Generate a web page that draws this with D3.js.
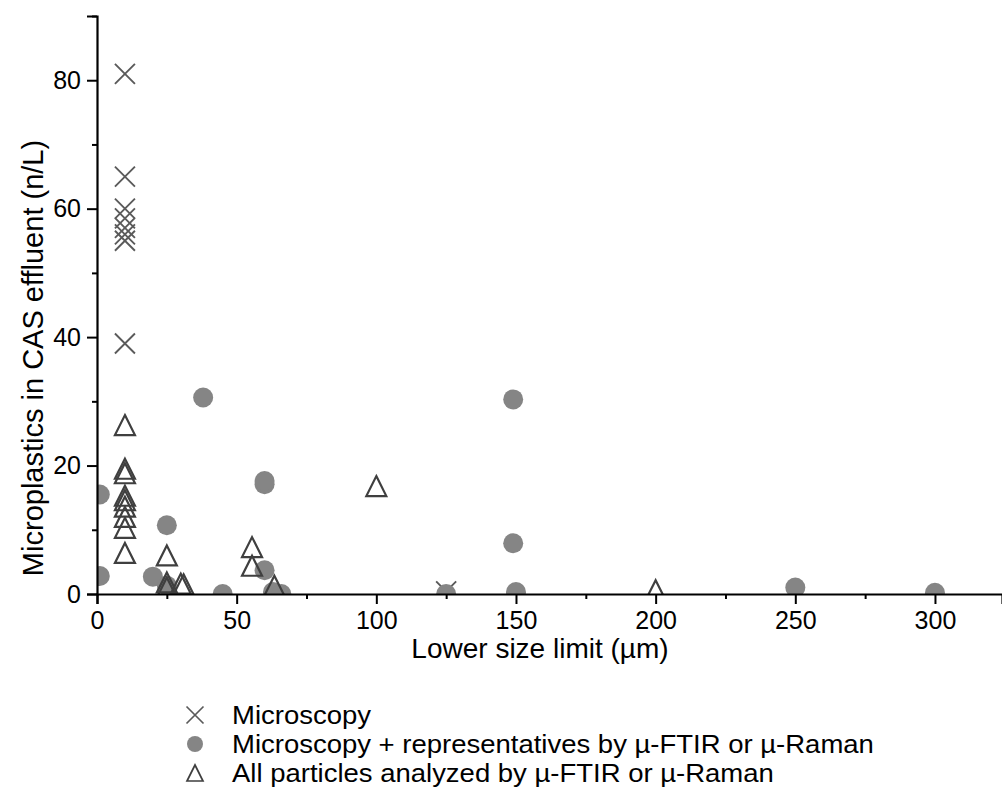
<!DOCTYPE html>
<html>
<head>
<meta charset="utf-8">
<script src="https://cdn.jsdelivr.net/npm/d3@7"></script>
<style>
  html, body { margin: 0; padding: 0; background: #fff; }
  svg { display: block; font-family: "Liberation Sans", Arial, sans-serif; }
</style>
</head>
<body>
<svg id="chart" width="1002" height="806"></svg>
<script>
// Microscopy only
const microX = [10, 10, 10, 10, 10, 10, 10, 10, 125];
const microY = [81, 65, 60, 58.5, 57, 56, 55, 39, 0.4];

// Microscopy + representatives by µ-FTIR or µ-Raman
const reprX = [1, 1, 20, 25, 25, 38, 45, 60, 60, 60, 63, 66, 125, 149, 149, 150, 250, 300];
const reprY = [15.5, 2.8, 2.7, 10.7, 1.3, 30.6, 0, 17.1, 17.6, 3.7, 0.3, 0, 0, 30.3, 7.9, 0.3, 1.0, 0.2];

// All particles analyzed by µ-FTIR or µ-Raman
const allX = [10, 10, 10, 10, 10, 10, 10, 10, 10, 25, 25, 25, 30, 31, 55.5, 55.5, 63.5, 100, 200];
const allY = [26.3, 19.5, 18.8, 15.3, 14.6, 13.6, 12, 10.3, 6.4, 6.0, 1.8, 1.0, 1.6, 1.5, 7.3, 4.4, 1.3, 16.8, 0.6];

const xMajor = [0, 50, 100, 150, 200, 250, 300];
const xMinor = [25, 75, 125, 175, 225, 275];
const yMajor = [0, 20, 40, 60, 80];
const yMinor = [10, 30, 50, 70, 90];

const legendLabels = [
  "Microscopy",
  "Microscopy + representatives by µ-FTIR or µ-Raman",
  "All particles analyzed by µ-FTIR or µ-Raman"
];

const W = 1002, H = 806;
const m = { left: 97, right: 0, top: 16, bottom: 212 };
const svg = d3.select("#chart");

const x = d3.scaleLinear().domain([0, 324]).range([m.left, W - m.right]);
const y = d3.scaleLinear().domain([0, 90]).range([H - m.bottom, m.top]);

const crossColor = "#5a5a5a";
const circleColor = "#858585";
const triColor = "#3f3f3f";

// plot-area clip
svg.append("defs").append("clipPath").attr("id", "plotClip")
  .append("rect")
  .attr("x", x.range()[0]).attr("y", y.range()[1])
  .attr("width", x.range()[1] - x.range()[0])
  .attr("height", y.range()[0] - y.range()[1]);

const plot = svg.append("g").attr("clip-path", "url(#plotClip)");

function crossPath(s) {
  const h = s / 2;
  return `M${-h},${-h}L${h},${h}M${-h},${h}L${h},${-h}`;
}
function triPath(s) {
  const h = s / 2;
  return `M0,${-h}L${h},${h}L${-h},${h}Z`;
}

// crosses
plot.append("g").selectAll("path")
  .data(d3.range(microX.length))
  .join("path")
  .attr("transform", i => `translate(${x(microX[i])},${y(microY[i])})`)
  .attr("d", crossPath(20))
  .attr("fill", "none")
  .attr("stroke", crossColor)
  .attr("stroke-width", 1.9);

// filled circles
plot.append("g").selectAll("circle")
  .data(d3.range(reprX.length))
  .join("circle")
  .attr("cx", i => x(reprX[i]))
  .attr("cy", i => y(reprY[i]))
  .attr("r", 10)
  .attr("fill", circleColor);

// open triangles
plot.append("g").selectAll("path")
  .data(d3.range(allX.length))
  .join("path")
  .attr("transform", i => `translate(${x(allX[i])},${y(allY[i])})`)
  .attr("d", triPath(20))
  .attr("fill", "none")
  .attr("stroke", triColor)
  .attr("stroke-width", 2.2)
  .attr("stroke-linejoin", "miter");

// axes
const xAxis = svg.append("g").attr("transform", `translate(0,${y(0)})`)
  .call(d3.axisBottom(x).tickValues(xMajor).tickSize(10).tickPadding(7).tickFormat(d3.format("d")));
const xMinorAxis = svg.append("g").attr("transform", `translate(0,${y(0)})`)
  .call(d3.axisBottom(x).tickValues(xMinor).tickSize(5).tickFormat(""));
const yAxis = svg.append("g").attr("transform", `translate(${x(0)},0)`)
  .call(d3.axisLeft(y).tickValues(yMajor).tickSize(10).tickPadding(6).tickFormat(d3.format("d")));
const yMinorAxis = svg.append("g").attr("transform", `translate(${x(0)},0)`)
  .call(d3.axisLeft(y).tickValues(yMinor).tickSize(5).tickFormat(""));

[xAxis, xMinorAxis, yAxis, yMinorAxis].forEach(g => {
  g.select(".domain").attr("stroke", "#000").attr("stroke-width", 2.2);
  g.selectAll(".tick line").attr("stroke", "#000").attr("stroke-width", 2);
  g.selectAll("text").attr("fill", "#000").style("font-size", "25px")
    .style("font-family", "'Liberation Sans', Arial, sans-serif");
});
xMinorAxis.select(".domain").remove();
yMinorAxis.select(".domain").remove();

// axis titles
svg.append("text")
  .attr("x", 540).attr("y", 658)
  .attr("text-anchor", "middle")
  .style("font-size", "28px")
  .text("Lower size limit (µm)");

svg.append("text")
  .attr("transform", `translate(43,358) rotate(-90)`)
  .attr("text-anchor", "middle")
  .style("font-size", "29px")
  .text("Microplastics in CAS effluent (n/L)");

// legend
const legend = svg.append("g").attr("transform", "translate(195,715)");
const rowH = 29;
legendLabels.forEach((lab, i) => {
  const g = legend.append("g").attr("transform", `translate(0,${i * rowH})`);
  if (i === 0) {
    g.append("path").attr("d", crossPath(17)).attr("fill", "none")
      .attr("stroke", crossColor).attr("stroke-width", 1.7);
  } else if (i === 1) {
    g.append("circle").attr("r", 8).attr("fill", circleColor);
  } else {
    g.append("path").attr("d", triPath(16)).attr("fill", "none")
      .attr("stroke", triColor).attr("stroke-width", 1.7);
  }
  g.append("text")
    .attr("transform", "translate(37,9) scale(1.1,1)")
    .style("font-size", "25px").attr("fill", "#000").text(lab);
});
</script>
</body>
</html>
